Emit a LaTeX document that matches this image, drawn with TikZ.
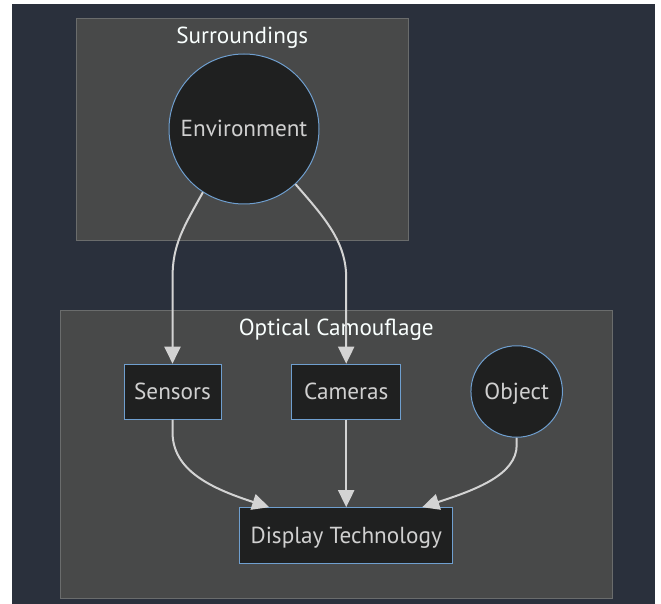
\documentclass[tikz,border=0pt]{standalone}
\usepackage{fontspec}
\setmainfont{PT Sans}
\usetikzlibrary{arrows.meta}
\definecolor{pagebg}{HTML}{2A303C}
\definecolor{clusterbg}{HTML}{484949}
\definecolor{clusterline}{HTML}{6A6C6C}
\definecolor{nodebg}{HTML}{1F2020}
\definecolor{nodeline}{HTML}{6F9FCF}
\definecolor{nodetext}{HTML}{D0D0D0}
\definecolor{titletext}{HTML}{F9FFFE}
\definecolor{edgecol}{HTML}{D3D3D3}
\tikzset{
  cluster/.style={draw=clusterline, fill=clusterbg, line width=1pt},
  boxnode/.style={draw=nodeline, fill=nodebg, line width=1pt, text=nodetext,
    font=\fontsize{23.2}{26}\selectfont, text height=16pt, text depth=0pt, inner sep=0pt},
  circnode/.style={boxnode, circle},
  ctitle/.style={text=titletext, font=\fontsize{23.2}{26}\selectfont, inner sep=0pt, anchor=base},
  edge/.style={draw=edgecol, line width=2pt, -{Triangle[length=17pt,width=16pt]}}
}
\begin{document}
\begin{tikzpicture}[x=1pt,y=-1pt]
\useasboundingbox (0,0) rectangle (661,604);
\fill[white] (0,0) rectangle (661,604);
\fill[pagebg] (12,4) rectangle (655,604);
% clusters
\draw[cluster] (76.5,18.3) rectangle (408,240);
\node[ctitle] (tsur) at (242.3,43.5) {Surroundings};
\draw[cluster] (60.5,310) rectangle (612,598);
\node[ctitle] (topt) at (336.3,335.5) {Optical Camouflage};
% nodes
\node[circnode, minimum size=150pt] (env) at (244,129) {Environment};
\node[boxnode, minimum width=97pt, minimum height=55pt] (sensors) at (172.5,391.7) {Sensors};
\node[boxnode, minimum width=109pt, minimum height=55pt] (cameras) at (346.2,391.7) {Cameras};
\node[circnode, minimum size=91.5pt] (object) at (516.7,391.5) {Object};
\node[boxnode, minimum width=213pt, minimum height=55.6pt] (display) at (346.2,535.5) {Display Technology};
% edges
\draw[edge] (env.237) .. controls (183,228) and (172.5,245) .. (172.5,278) -- (sensors.north);
\draw[edge] (env.313) .. controls (325,218) and (346.2,242) .. (346.2,278) -- (cameras.north);
\draw[edge] (sensors.south) -- (172.5,432) .. controls (172.5,470) and (210,488) .. ([xshift=-77pt]display.north);
\draw[edge] (cameras.south) -- (display.north);
\draw[edge] (object.south) -- (516.7,445) .. controls (516.7,475) and (475,490) .. ([xshift=76pt]display.north);
\end{tikzpicture}
\end{document}
